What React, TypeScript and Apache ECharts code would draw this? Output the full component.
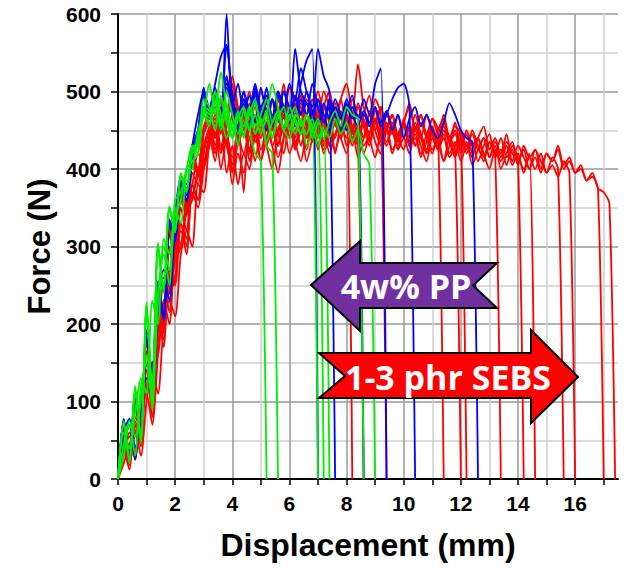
import React, { useEffect, useRef } from "react";
import * as echarts from "echarts";

// Displacement sampling grid (mm)
const X = [0,0.2,0.4,0.6,0.8,1,1.2,1.4,1.6,1.8,2,2.2,2.4,2.6,2.8,3,3.2,3.4,3.6,3.8,4,4.2,4.4,4.6,4.8,5,5.2,5.4,5.6,5.8,6,6.2,6.4,6.6,6.8,7,7.2,7.4,7.6,7.8,8,8.2,8.4,8.6,8.8,9,9.2,9.4,9.6,9.8,10,10.2,10.4,10.6,10.8,11,11.2,11.4,11.6,11.8,12,12.2,12.4,12.6,12.8,13,13.2,13.4,13.6,13.8,14,14.2,14.4,14.6,14.8,15,15.2,15.4,15.6,15.8,16,16.2,16.4,16.6,16.8,17,17.2,17.4,17.6];

const X_TICKS = [0,1,2,3,4,5,6,7,8,9,10,11,12,13,14,15,16,17];
const X_LABELS = [0,2,4,6,8,10,12,14,16];

// Red curves (1-3 phr SEBS), force in N
const R1 = [0,65,18,95,48,165,95,215,170,300,250,350,320,395,380,430,455,480,445,500,470,430,455,420,470,445,490,455,430,470,440,480,455,425,465,500,470,445,480,455,470,0];
const R2 = [0,45,30,70,42,130,125,175,220,245,280,300,345,360,400,405,440,410,470,395,430,380,420,400,445,410,460,430,395,440,470,425,455,410,440,480,430,460,420,455,440,470,430,0];
const R3 = [0,70,30,110,62,190,130,250,190,320,300,370,340,420,400,455,470,500,460,520,480,440,470,500,460,480,450,490,470,510,460,480,500,470,490,460,500,480,455,490,510,470,535,480,460,490,470,0];
const R4 = [0,35,55,25,80,110,70,160,230,200,300,320,290,380,360,420,450,420,465,430,400,445,470,425,450,480,440,460,430,470,450,485,455,430,470,445,480,460,440,475,450,490,465,440,470,450,480,455,470,440,460,485,450,470,445,465,450,0];
const R5 = [0,40,12,75,50,140,130,190,215,260,290,300,350,365,390,400,430,455,400,440,380,420,395,440,410,455,430,400,445,420,460,435,410,450,470,430,455,420,445,465,430,450,415,440,460,435,420,450,470,440,425,455,430,445,420,450,435,410,440,425,0];
const R6 = [0,75,28,108,58,185,125,245,195,325,305,375,345,415,390,450,475,440,490,455,510,470,445,485,460,500,475,450,490,465,505,480,455,490,470,440,480,500,465,490,455,475,440,470,495,460,480,450,470,435,460,480,450,470,440,465,445,470,440,455,445,0];
const R7 = [0,30,60,35,95,140,80,200,250,215,330,300,360,380,420,410,445,470,430,455,485,440,460,420,450,475,435,465,445,480,455,430,460,440,475,450,425,460,485,445,470,435,455,440,475,450,430,460,445,470,440,455,430,460,440,420,450,465,435,445,425,450,430,440,415,435,420,0];
const R8 = [0,68,26,102,56,178,118,235,190,315,285,360,340,405,395,445,460,430,475,445,415,455,480,440,465,425,455,490,450,470,440,460,495,455,475,445,465,430,470,450,485,455,430,465,445,475,450,435,460,440,465,430,455,440,470,445,425,450,435,460,430,445,420,440,455,425,440,415,435,420,410,0];
const R9 = [0,50,20,60,75,120,150,160,230,240,260,330,310,370,350,400,440,465,425,450,395,435,460,410,445,470,430,455,415,440,465,425,450,470,435,455,420,445,475,440,460,430,450,420,445,465,435,455,425,440,460,430,445,420,435,455,425,440,415,430,450,420,435,410,430,445,415,425,405,430,415,400,420,0];
const R10 = [0,66,24,104,54,182,112,238,198,318,292,365,348,412,392,448,470,445,490,460,520,480,450,475,440,470,495,455,480,450,470,445,485,460,440,475,455,490,465,440,470,450,485,460,435,465,445,475,455,430,460,440,470,445,425,455,435,460,440,420,450,430,445,425,440,415,435,420,445,410,430,415,400,425,410,395,415,400,0];
const R11 = [0,20,45,60,30,100,140,110,200,230,210,290,320,300,380,370,435,460,420,445,405,440,465,425,450,410,440,470,430,455,420,445,475,440,460,425,450,430,465,440,420,455,435,460,440,415,445,430,455,425,440,420,450,430,410,440,425,445,420,435,410,430,415,440,420,400,425,410,430,405,420,395,415,400,420,395,405,390,410,395,0];
const R12 = [0,72,26,106,60,188,122,242,202,322,298,372,352,418,398,452,465,440,480,455,500,470,370,470,435,465,490,450,475,445,465,440,480,455,435,470,450,485,460,440,465,445,480,455,430,460,440,470,450,425,455,435,460,440,420,445,430,455,435,415,440,425,450,430,410,435,420,440,415,425,405,430,415,425,400,420,410,430,405,415,395,405,385,390,375,0];
const R13 = [0,55,35,80,65,150,120,200,180,270,250,330,300,380,360,420,450,425,460,430,470,445,420,455,480,440,460,430,450,475,440,465,430,455,445,470,435,460,425,450,470,440,455,430,445,465,435,450,420,445,460,430,440,415,445,425,440,410,430,450,420,435,405,425,440,415,430,400,420,435,410,425,400,415,395,420,410,425,400,410,395,400,385,395,375,370,355,0];

// Blue curves
const B1 = [0,78,30,112,62,192,135,255,210,335,315,385,370,430,450,505,470,500,455,600,480,510,470,495,460,505,475,490,460,500,480,470,510,540,555,0];
const B2 = [0,60,78,40,90,150,120,230,260,230,330,370,360,410,450,480,480,510,545,560,490,470,500,455,490,470,505,465,495,475,510,490,530,500,480,555,520,500,0];
const B3 = [0,74,28,110,60,186,126,250,208,330,310,380,358,420,435,495,465,490,450,520,470,445,485,460,495,470,450,490,465,500,475,455,490,470,510,480,460,490,470,455,485,465,470,0];
const B4 = [0,45,70,25,110,130,100,220,270,250,340,390,380,430,470,500,470,495,460,505,480,450,490,470,500,465,485,455,495,475,460,490,470,500,475,455,485,465,490,470,450,480,465,490,470,510,530,0];
const B5 = [0,77,30,110,60,190,130,252,206,332,312,382,366,428,445,500,475,500,465,510,485,455,490,470,505,475,490,460,500,480,465,495,470,485,460,490,470,450,480,465,490,470,455,475,460,480,455,470,490,505,510,480,0];
const B6 = [0,75,28,108,58,186,126,250,204,330,306,380,360,422,440,498,480,505,470,560,495,465,500,475,510,480,495,465,500,480,470,555,500,485,470,490,460,480,470,450,475,495,465,470,455,480,460,475,450,470,440,465,480,455,470,450,440,460,485,470,450,440,435,0];

// Green curves (4w% PP)
const G1 = [0,74,24,118,50,225,100,300,245,350,320,390,375,420,430,470,455,500,470,440,460,430,475,450,420,410,0];
const G2 = [0,45,75,30,120,150,90,240,290,250,350,330,395,400,450,470,510,470,525,480,450,470,440,480,455,465,430,420,0];
const G3 = [0,72,22,120,48,220,105,305,240,352,318,392,370,425,435,475,465,490,455,500,470,445,475,450,485,460,470,510,480,455,470,445,465,430,450,0];
const G4 = [0,30,70,55,100,160,130,230,300,270,340,360,400,410,420,490,480,450,495,465,440,470,455,480,445,470,490,460,475,450,465,480,455,470,440,460,0];
const G5 = [0,75,20,116,46,228,98,302,242,348,322,395,372,428,432,478,470,500,460,485,450,475,445,470,490,455,475,440,465,480,450,470,460,445,465,440,455,0];
const G6 = [0,60,40,85,130,110,230,200,310,290,360,370,400,430,420,470,460,485,450,475,440,465,480,450,470,445,465,440,470,455,480,460,445,470,450,465,440,460,475,455,480,470,465,0];
const G7 = [0,73,23,115,49,222,102,300,246,348,324,392,374,424,436,480,475,450,490,460,440,470,455,480,445,465,435,460,475,450,440,465,445,470,455,430,450,440,465,445,460,435,450,420,405,0];

const RED = [R1,R2,R3,R4,R5,R6,R7,R8,R9,R10,R11,R12,R13];
const BLUE = [B1,B2,B3,B4,B5,B6];
const GREEN = [G1,G2,G3,G4,G5,G6,G7];

const PP_LABEL = "4w% PP";
const SEBS_LABEL = "1-3 phr SEBS";

const toPts = (ys: number[]) => ys.map((y, i) => [X[i], y]);

export default function App() {
  const ref = useRef<HTMLDivElement>(null);
  useEffect(() => {
    if (!ref.current) return;
    const chart = echarts.init(ref.current, null, { renderer: "svg" });
    const mk = (arr: number[][], color: string, name: string) =>
      arr.map((ys) => ({
        type: "line",
        name,
        data: toPts(ys),
        showSymbol: false,
        symbol: "none",
        smooth: 0.25,
        lineStyle: { color, width: 1.8 },
        itemStyle: { color },
        emphasis: { disabled: true },
      }));
    const series = [
      ...mk(RED, "#ff0000", "SEBS"),
      ...mk(BLUE, "#0000ff", "blue"),
      ...mk(GREEN, "#00ee00", "PP"),
    ];
    const tickFont = { fontFamily: "Liberation Sans, Arial", fontWeight: "bold", fontSize: 21, color: "#000" };
    chart.setOption({
      animation: false,
      grid: { left: 118, right: 11, top: 14, bottom: 90 },
      xAxis: {
        type: "value",
        min: 0,
        max: 17.5,
        name: "Displacement (mm)",
        nameLocation: "middle",
        nameGap: 50,
        nameTextStyle: { fontFamily: "Liberation Sans, Arial", fontWeight: "bold", fontSize: 32, color: "#000" },
        axisLine: { show: true, onZero: false, lineStyle: { color: "#000", width: 2 } },
        axisTick: { show: true, inside: false, length: 6, customValues: X_TICKS, lineStyle: { color: "#000", width: 1.5 } },
        axisLabel: { ...tickFont, margin: 14, customValues: X_LABELS },
        splitLine: { show: true, lineStyle: { color: ["#9a9a9a", "#cfcfcf"], width: 1.5 } },
      },
      yAxis: {
        type: "value",
        min: 0,
        max: 600,
        interval: 50,
        name: "Force (N)",
        nameLocation: "middle",
        nameGap: 62,
        nameTextStyle: { fontFamily: "Liberation Sans, Arial", fontWeight: "bold", fontSize: 31, color: "#000" },
        axisLine: { show: true, onZero: false, lineStyle: { color: "#000", width: 2 } },
        axisTick: { show: true, inside: false, length: 7, lineStyle: { color: "#000", width: 1.5 } },
        axisLabel: { ...tickFont, margin: 17, formatter: (v: number) => (v % 100 === 0 ? String(v) : "") },
        splitLine: { show: true, lineStyle: { color: ["#9a9a9a", "#cfcfcf"], width: 1.5 } },
      },
      series,
      graphic: [
        {
          type: "polygon",
          z: 100,
          shape: { points: [[311, 285], [360, 241], [360, 263], [497, 263], [473, 285.5], [497, 308], [360, 308], [360, 331]] },
          style: { fill: "#7030a0", stroke: "#000", lineWidth: 2 },
        },
        {
          type: "text",
          z: 101,
          x: 406,
          y: 286,
          style: { text: PP_LABEL, fill: "#fff", font: 'bold 34px "Open Sans"', align: "center", verticalAlign: "middle" },
        },
        {
          type: "polygon",
          z: 100,
          shape: { points: [[319, 353], [531, 353], [531, 330], [578, 377], [531, 423], [531, 398], [319, 398], [345, 376]] },
          style: { fill: "#ff0000", stroke: "#000", lineWidth: 2 },
        },
        {
          type: "text",
          z: 101,
          x: 448,
          y: 377,
          style: { text: SEBS_LABEL, fill: "#fff", font: 'bold 34px "Open Sans"', align: "center", verticalAlign: "middle" },
        },
      ],
    });
    return () => chart.dispose();
  }, []);
  return <div ref={ref} style={{ position: "absolute", left: 0, top: 0, width: 629, height: 569 }} />;
}
